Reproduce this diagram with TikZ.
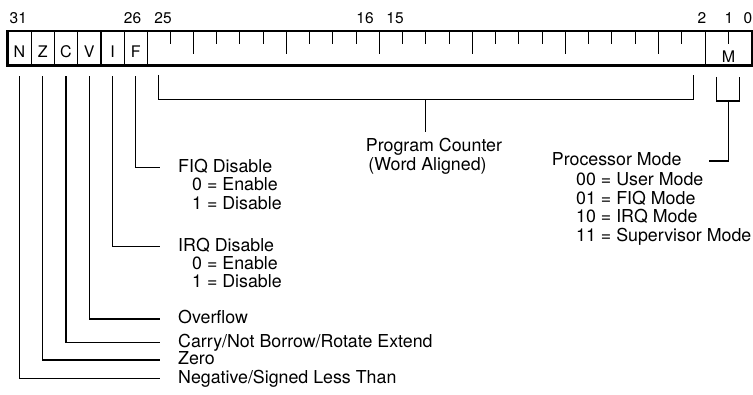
\documentclass[tikz,border=0pt]{standalone}
\usepackage{fontspec}
\setmainfont{TeX Gyre Heros}
\begin{document}
\begin{tikzpicture}[x=1pt,y=-1pt,
  lbl/.style={font=\fontsize{17.8}{21}\selectfont, inner sep=0pt, anchor=west, text height=12.8pt, text depth=3.7pt},
  pclbl/.style={font=\fontsize{17.8}{21}\selectfont, inner sep=0pt, text height=12.8pt, text depth=3.7pt},
  bitnum/.style={font=\fontsize{15.5}{18}\selectfont, inner sep=0pt},
  flag/.style={draw, line width=1.2pt, minimum width=23.25pt, minimum height=33.5pt, inner sep=0pt,
    font=\fontsize{16}{19}\selectfont, anchor=north west, text height=17.5pt, text depth=0pt},
  lead/.style={line width=1.1pt},
  tick/.style={line width=1.1pt}]
\useasboundingbox (0,0) rectangle (753,395);

% register cells
\node[flag] (cN) at (7.3,31) {N};
\node[flag] (cZ) at (30.55,31) {Z};
\node[flag] (cC) at (53.8,31) {C};
\node[flag] (cV) at (77.05,31) {V};
\node[flag] (cI) at (100.3,31) {I};
\node[flag] (cF) at (123.55,31) {F};
\node[draw, line width=1.2pt, minimum width=558pt, minimum height=33.5pt, inner sep=0pt, anchor=north west] (pc) at (146.8,31) {};
\node[flag, minimum width=46.5pt, text height=28pt] (cM) at (704.8,31) {M};
\draw[line width=2pt] (cN.north west) rectangle (cM.south east);

% ticks
\foreach \k in {7,...,29}{
  \pgfmathsetmacro\len{mod(\k,4)==0 ? 23 : 13}
  \draw[tick] (7.3+23.25*\k,31) -- ++(0,\len);
}
\draw[tick] (728.05,31) -- ++(0,13);

% bit numbers
\node[bitnum] (b31) at (18.3,18) {31};
\node[bitnum] (b26) at (132.5,18) {26};
\node[bitnum] (b25) at (163,18) {25};
\node[bitnum] (b16) at (365,18) {16};
\node[bitnum] (b15) at (395,18) {15};
\node[bitnum] (b2) at (702,18) {2};
\node[bitnum] (b1) at (729,18) {1};
\node[bitnum] (b0) at (748,18) {0};

% flag texts
\node[lbl] (tFIQ) at (178,167.5) {FIQ Disable};
\node[lbl] (tFIQa) at (192,186) {0 = Enable};
\node[lbl] (tFIQb) at (192,204.5) {1 = Disable};
\node[lbl] (tIRQ) at (178,246.5) {IRQ Disable};
\node[lbl] (tIRQa) at (192,264.5) {0 = Enable};
\node[lbl] (tIRQb) at (192,282.5) {1 = Disable};
\node[lbl] (tV) at (178,319) {Overflow};
\node[lbl] (tC) at (178,342.5) {Carry/Not Borrow/Rotate Extend};
\node[lbl] (tZ) at (178,360) {Zero};
\node[lbl] (tN) at (178,378.5) {Negative/Signed Less Than};

% flag leaders
\draw[lead] ([yshift=-10.5pt]cF.south) |- ([xshift=-18.5pt]tFIQ.west);
\draw[lead] ([yshift=-10.5pt]cI.south) |- ([xshift=-18.5pt]tIRQ.west);
\draw[lead] ([yshift=-10.5pt]cV.south) |- ([xshift=-18.5pt]tV.west);
\draw[lead] ([yshift=-10.5pt]cC.south) |- ([xshift=-18.5pt]tC.west);
\draw[lead] ([yshift=-10.5pt]cZ.south) |- ([xshift=-18.5pt]tZ.west);
\draw[lead] ([yshift=-10.5pt]cN.south) |- ([xshift=-18.5pt]tN.west);

% program counter
\node[pclbl] (tPC) at (434,146.5) {Program Counter};
\node[pclbl] (tPCb) at (427.5,166) {(Word Aligned)};
\coordinate (pcL) at (158.4,75);
\coordinate (pcR) at (693.2,75);
\coordinate (pcMid) at (425.8,99.5);
\draw[lead] (pcL) |- (pcMid) -| (pcR);
\draw[lead] (pcMid) -- ([yshift=6pt]tPC.north -| pcMid);

% processor mode
\node[lbl] (tPM) at (551.7,161) {Processor Mode};
\node[lbl] (tPM0) at (576,181) {00 = User Mode};
\node[lbl] (tPM1) at (576,199.5) {01 = FIQ Mode};
\node[lbl] (tPM2) at (576,218) {10 = IRQ Mode};
\node[lbl] (tPM3) at (576,236.5) {11 = Supervisor Mode};
\coordinate (mL) at (716.4,77);
\coordinate (mR) at (739.7,77);
\coordinate (mMid) at (728.05,101);
\draw[lead] (mL) |- (mMid) -| (mR);
\draw[lead] (mMid) |- ([xshift=27pt]tPM.east);
\end{tikzpicture}
\end{document}
